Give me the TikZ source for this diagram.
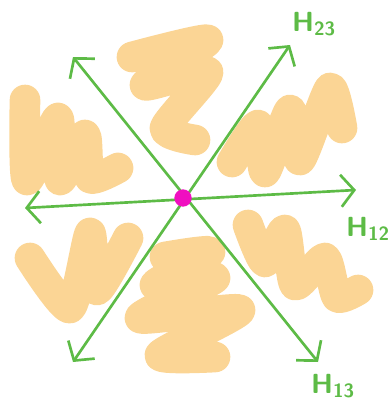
\documentclass[tikz,border=0pt]{standalone}
\usetikzlibrary{arrows.meta}
\definecolor{sketchGreen}{HTML}{5DBB46}
\definecolor{sketchOrange}{HTML}{FBD595}
\definecolor{sketchMagenta}{HTML}{F00FC0}

\begin{document}
\begin{tikzpicture}[
    x=0.75pt,y=-0.75pt,
    blob/.style={draw=sketchOrange,line width=23pt,line cap=round,line join=round},
    axis/.style={{Straight Barb[length=10pt,width=24pt]}-{Straight Barb[length=10pt,width=24pt]},
        draw=sketchGreen,line width=2pt},
    hlabel/.style={text=sketchGreen,font=\huge\sffamily\bfseries},
    origin/.style={circle,fill=sketchMagenta,minimum size=13pt,inner sep=0pt},
]
\useasboundingbox (0,0) rectangle (388,407);

% === SCRIBBLED REGIONS ===
\draw[blob] plot[smooth,tension=0.4] coordinates {(132,57) (208,40) (145,85) (208,72) (165,128) (195,140)};
\draw[blob] plot[smooth,tension=0.4] coordinates {(232,162) (258,125) (265,172) (290,110) (300,160) (330,88) (342,128)};
\draw[blob] plot[smooth,tension=0.4] coordinates {(25,100) (27,180) (58,118) (60,180) (85,135) (90,178) (118,168)};
\draw[blob] plot[smooth,tension=0.4] coordinates {(30,258) (70,308) (90,233) (97,290) (128,238)};
\draw[blob] plot[smooth,tension=0.4] coordinates {(165,257) (210,252) (155,285) (215,278) (140,318) (240,310) (160,355) (215,357)};
\draw[blob] plot[smooth,tension=0.4] coordinates {(248,225) (265,262) (285,230) (295,285) (325,258) (337,297) (358,290)};

% === AXES ===
\coordinate (h12a) at (25,208);
\coordinate (h12b) at (356,190);
\coordinate (h23a) at (73,362);
\coordinate (h23b) at (290,45);
\coordinate (h13a) at (73,57);
\coordinate (h13b) at (318,362);
\draw[axis] (h12a) -- (h12b);
\draw[axis] (h23a) -- (h23b);
\draw[axis] (h13a) -- (h13b);

\node[origin] (o) at (183,198) {};

% === LABELS ===
\node[hlabel] (l23) at (314,24) {H\textsubscript{23}};
\node[hlabel] (l12) at (368,229) {H\textsubscript{12}};
\node[hlabel] (l13) at (333,386) {H\textsubscript{13}};

\end{tikzpicture}
\end{document}
